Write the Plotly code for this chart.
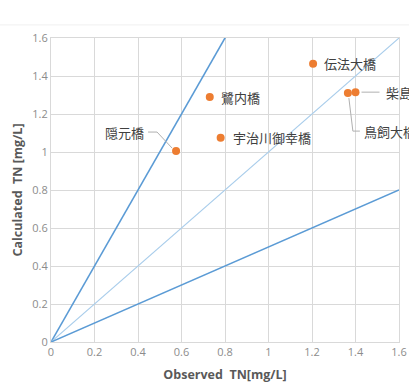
import plotly.graph_objects as go

# Data
names = ["隠元橋", "鷺内橋", "宇治川御幸橋", "伝法大橋", "鳥飼大橋", "柴島"]
observed = [0.575, 0.73, 0.78, 1.205, 1.365, 1.40]
calculated = [1.005, 1.29, 1.075, 1.465, 1.31, 1.315]
ref_x = [0, 1.6]
ratios = [2.0, 1.0, 0.5]
x_ticks = [0, 0.2, 0.4, 0.6, 0.8, 1, 1.2, 1.4, 1.6]
y_ticks = [0, 0.2, 0.4, 0.6, 0.8, 1, 1.2, 1.4, 1.6]

# label offsets (pixels): xshift, yshift, anchor
label_pos = {
    "隠元橋": (-30, 19, "right"),
    "鷺内橋": (9, -1, "left"),
    "宇治川御幸橋": (10, 0, "left"),
    "伝法大橋": (9, 0, "left"),
    "鳥飼大橋": (14, -38, "left"),
    "柴島": (28, 0, "left"),
}
leaders = {
    "隠元橋": "M-4,3 L-19,19 L-28,19",
    "鳥飼大橋": "M1,-5 L5,-38 L12,-38",
    "柴島": "M6,0 L24,0",
}

fig = go.Figure()
line_styles = {2.0: ("#5B9BD5", 1.6), 1.0: ("#A9CDEB", 1.1), 0.5: ("#5B9BD5", 1.6)}
for r in ratios:
    c, w = line_styles[r]
    fig.add_trace(go.Scatter(x=ref_x, y=[v * r for v in ref_x], mode="lines",
                             line=dict(color=c, width=w), hoverinfo="skip",
                             showlegend=False, cliponaxis=True))

fig.add_trace(go.Scatter(x=observed, y=calculated, mode="markers",
                         marker=dict(color="#ED7D31", size=8),
                         showlegend=False, cliponaxis=False))

jp_font = dict(family="Noto Sans CJK JP", size=13, color="#404040")
for n, xo, yo in zip(names, observed, calculated):
    dx, dy, anc = label_pos[n]
    fig.add_annotation(x=xo, y=yo, text=n, showarrow=False, xanchor=anc,
                       yanchor="middle", xshift=dx, yshift=dy, font=jp_font)
    if n in leaders:
        fig.add_shape(type="path", xref="x", yref="y", xsizemode="pixel",
                      ysizemode="pixel", xanchor=xo, yanchor=yo, path=leaders[n],
                      line=dict(color="#B0B0B0", width=1))

fig.add_shape(type="line", xref="paper", yref="paper", x0=-0.2, x1=1.1,
              y0=1.043, y1=1.043, line=dict(color="#F0F0F0", width=1))

axis_common = dict(range=[0, 1.6], showgrid=True, gridcolor="#D9D9D9", gridwidth=1,
                   zeroline=False, showline=True, linecolor="#D9D9D9", mirror=True,
                   tickfont=dict(family="Open Sans", size=11, color="#8C8C8C"),
                   ticks="", automargin=False)
fig.update_xaxes(**axis_common, tickvals=x_ticks,
                 ticktext=[f"{v:g}" for v in x_ticks],
                 title=dict(text="<b>Observed  TN[mg/L]</b>",
                            font=dict(family="Open Sans", size=12.5, color="#595959"),
                            standoff=12))
fig.update_yaxes(**axis_common, tickvals=y_ticks,
                 ticktext=[f"{v:g}" for v in y_ticks],
                 title=dict(text="<b>Calculated  TN [mg/L]</b>",
                            font=dict(family="Open Sans", size=12.5, color="#595959"),
                            standoff=6))

fig.update_layout(width=409, height=383, margin=dict(l=51, r=10, t=38, b=41),
                  plot_bgcolor="white", paper_bgcolor="white")
fig.write_html("out.html", config={"displayModeBar": False},
               post_script="document.body.style.margin='0';document.body.style.overflow='hidden';")
